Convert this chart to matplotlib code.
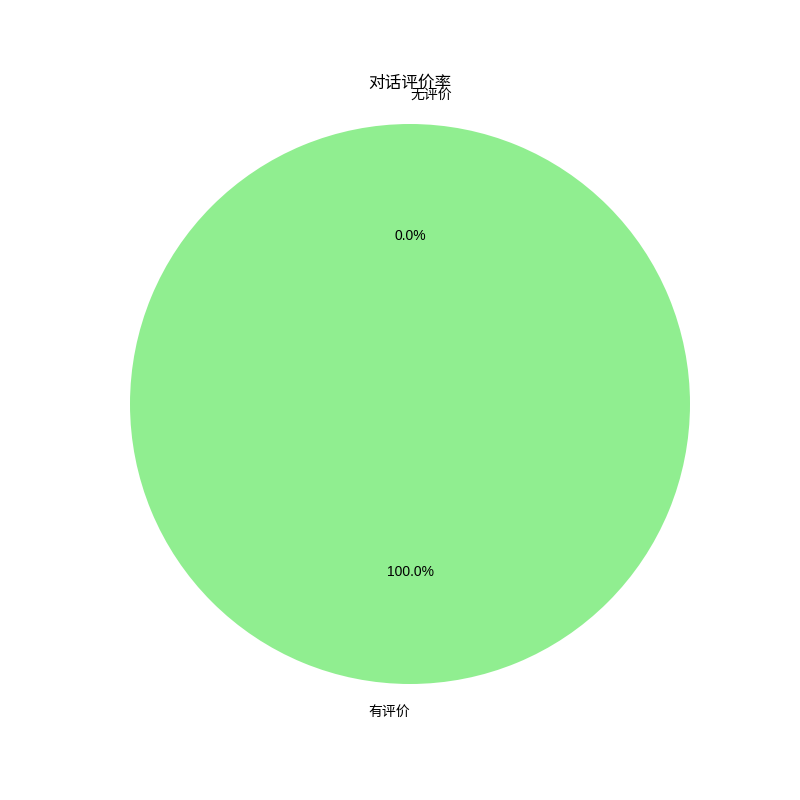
import matplotlib
matplotlib.use('Agg')
import matplotlib.pyplot as plt

plt.rcParams['font.family'] = ['Liberation Sans', 'Noto Sans CJK SC', 'DejaVu Sans']

labels = ['有评价', '无评价']
counts = [100, 0]
colors = ['lightgreen', 'lightcoral']

fig, ax = plt.subplots(figsize=(8, 8), dpi=100)
wedges, texts, autotexts = ax.pie(counts, labels=labels, colors=colors,
                                  autopct='%1.1f%%', startangle=90)
# label sides as in the original render
texts[0].set_ha('right')
texts[1].set_ha('left')
ax.set_xlim(-1.1, 1.1)
ax.set_ylim(-1.1, 1.1)
ax.set_aspect('equal')
ax.set_title('对话评价率')
fig.savefig('out.png')
